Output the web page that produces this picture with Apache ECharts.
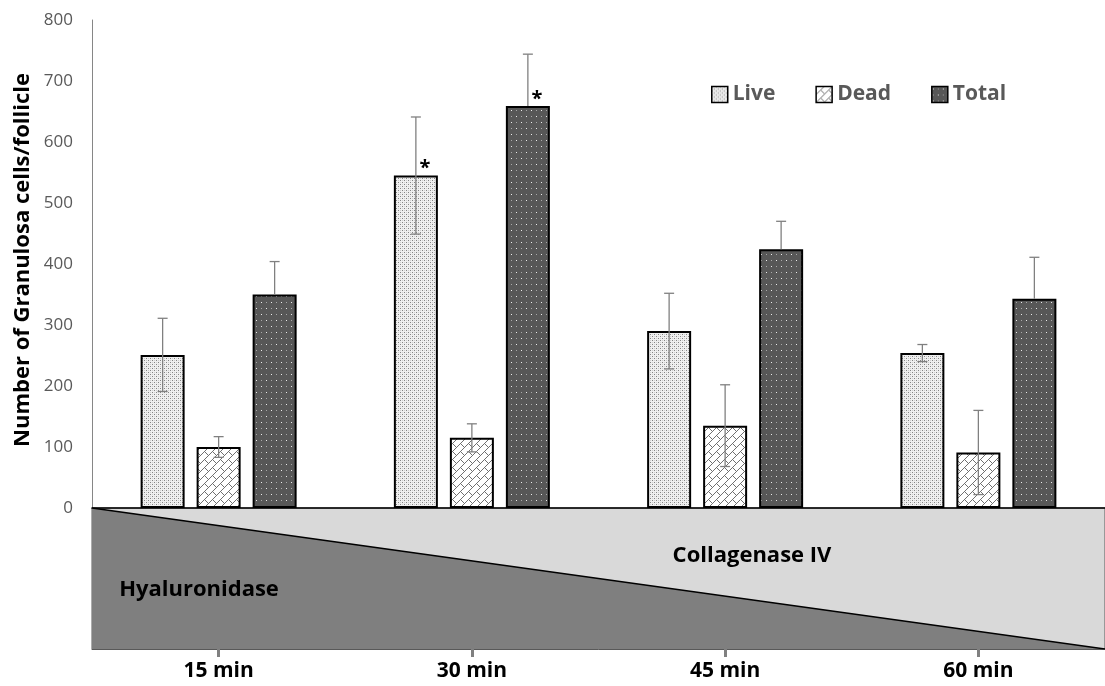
<!DOCTYPE html>
<html>
<head>
<meta charset="utf-8">
<title>Granulosa cells per follicle</title>
<script src="https://cdn.jsdelivr.net/npm/echarts@6/dist/echarts.min.js"></script>
<style>
  html, body { margin: 0; padding: 0; background: #ffffff; }
  #chart { width: 1105px; height: 686px; }
</style>
</head>
<body>
<div id="chart"></div>
<script>
// Digestion time points
const categories = ['15 min', '30 min', '45 min', '60 min'];

// Mean cell counts per follicle and their error (±)
const liveCells  = [251, 545, 290, 254];
const liveErr    = [60, 96, 62, 14];
const deadCells  = [100, 115, 135, 91];
const deadErr    = [17, 23, 67, 69];
const totalCells = [350, 659, 424, 343];
const totalErr   = [54, 85, 46, 68];

// Significance markers (*)
const liveSignificant  = [false, true, false, false];
const totalSignificant = [false, true, false, false];

// Enzyme gradient across the digestion: share of hyaluronidase from start (0) to end (1)
const gradientPos        = [0, 1];
const hyaluronidaseShare = [1, 0];

// Y axis range
const yMin = 0, yMax = 800, yStep = 100;

const FONT = "'Open Sans', 'Noto Sans', sans-serif";
const BAR_WIDTH = 44;
const BAR_GAP_PX = 12;

// --- fill patterns for the bars ---
function tile(w, h, bg, pixels) {
  const c = document.createElement('canvas');
  c.width = w; c.height = h;
  const ctx = c.getContext('2d');
  ctx.fillStyle = bg;
  ctx.fillRect(0, 0, w, h);
  pixels.forEach(p => {
    ctx.fillStyle = p[2];
    ctx.fillRect(p[0], p[1], 1, 1);
  });
  return { image: c, repeat: 'repeat' };
}

// fine dotted fill
const livePattern = tile(4, 4, '#f0f0f0', [
  [0, 0, '#848484'], [2, 2, '#848484'], [2, 0, '#cfcfcf'], [0, 2, '#cfcfcf']
]);

// shingle hatch
const deadPx = [];
for (let i = 0; i < 8; i++) deadPx.push([i, 7 - i, '#707070']);
for (let i = 0; i < 4; i++) deadPx.push([4 + i, 3 + i, '#707070']);
const deadPattern = tile(8, 8, '#ffffff', deadPx);

// dark fill with light dots
const totalPattern = tile(10, 12, '#575757', [
  [1, 2, '#ececec'], [6, 2, '#a8a8a8'], [1, 8, '#a8a8a8'], [6, 8, '#ececec']
]);

const chart = echarts.init(document.getElementById('chart'), null, { renderer: 'canvas' });

// error bar data: [categoryIndex, value, error]
function errData(values, errs) {
  return values.map((v, i) => [i, v, errs[i]]);
}

function errorSeries(name, values, errs, slot, plusOnly) {
  return {
    type: 'custom',
    name: name + ' error',
    xAxisIndex: 0,
    yAxisIndex: 0,
    z: 5,
    silent: true,
    encode: { x: 0, y: 1 },
    data: errData(values, errs),
    renderItem: function (params, api) {
      const ci = api.value(0), v = api.value(1), e = api.value(2);
      const shift = (slot - 1) * (BAR_WIDTH + BAR_GAP_PX);
      const top = api.coord([ci, v + e]);
      const mid = api.coord([ci, v]);
      const bot = api.coord([ci, v - e]);
      const x = top[0] + shift;
      const cap = 5;
      const style = { stroke: '#808080', lineWidth: 1.3 };
      const yLow = plusOnly ? mid[1] : bot[1];
      const children = [
        { type: 'line', shape: { x1: x, y1: top[1], x2: x, y2: yLow }, style: style },
        { type: 'line', shape: { x1: x - cap, y1: top[1], x2: x + cap, y2: top[1] }, style: style }
      ];
      if (!plusOnly) {
        children.push({ type: 'line', shape: { x1: x - cap, y1: bot[1], x2: x + cap, y2: bot[1] }, style: style });
      }
      return { type: 'group', children: children };
    }
  };
}

function starLabel(flags) {
  return {
    show: true,
    position: 'top',
    distance: 5,
    offset: [9, 8],
    fontFamily: FONT,
    fontSize: 20,
    fontWeight: 'bold',
    color: '#000000',
    formatter: p => (flags[p.dataIndex] ? '*' : '')
  };
}

const barBorder = { borderColor: '#000000', borderWidth: 2 };

const option = {
  backgroundColor: '#ffffff',
  animation: false,
  grid: [
    { left: 92, top: 20, width: 1014, height: 488, show: false },
    { left: 92, top: 508, width: 1014, height: 141, show: true,
      backgroundColor: '#d9d9d9', borderColor: '#595959', borderWidth: 1 }
  ],
  legend: {
    data: ['Live', 'Dead', 'Total'],
    left: 711,
    top: 84,
    padding: 0,
    icon: 'rect',
    itemWidth: 16,
    itemHeight: 16,
    itemGap: 40,
    selectedMode: false,
    itemStyle: { borderColor: '#000000', borderWidth: 1.5 },
    textStyle: { fontFamily: FONT, fontSize: 21, fontWeight: 'bold', color: '#595959' }
  },
  xAxis: [
    {
      type: 'category', gridIndex: 0, data: categories,
      axisLine: { show: true, lineStyle: { color: '#000000', width: 1.5 } },
      axisTick: { show: false },
      axisLabel: { show: false }
    },
    {
      type: 'category', gridIndex: 1, data: categories, position: 'bottom',
      axisLine: { show: true, lineStyle: { color: '#595959', width: 1 } },
      axisTick: { show: true, alignWithLabel: true, length: 8, lineStyle: { color: '#808080', width: 3 } },
      axisLabel: { show: true, margin: 12, fontFamily: FONT, fontSize: 21, fontWeight: 'bold', color: '#000000' }
    },
    {
      type: 'value', gridIndex: 1, min: 0, max: 1, show: false
    }
  ],
  yAxis: [
    {
      type: 'value', gridIndex: 0, min: yMin, max: yMax, interval: yStep,
      axisLine: { show: true, lineStyle: { color: '#868686', width: 1 } },
      axisTick: { show: false },
      splitLine: { show: false },
      axisLabel: { margin: 19, fontFamily: FONT, fontSize: 17, color: '#595959' }
    },
    {
      type: 'value', gridIndex: 1, min: 0, max: 1, show: false
    }
  ],
  graphic: [
    {
      type: 'text', x: 23, y: 260, rotation: Math.PI / 2, z: 10,
      style: {
        text: 'Number of Granulosa cells/follicle',
        fontFamily: FONT, fontSize: 22, fontWeight: 'bold', fill: '#000000',
        textAlign: 'center', textVerticalAlign: 'middle'
      }
    },
    {
      type: 'text', x: 199, y: 590, z: 10,
      style: {
        text: 'Hyaluronidase', fontFamily: FONT, fontSize: 22, fontWeight: 'bold', fill: '#000000',
        textAlign: 'center', textVerticalAlign: 'middle'
      }
    },
    {
      type: 'text', x: 752, y: 556, z: 10,
      style: {
        text: 'Collagenase IV', fontFamily: FONT, fontSize: 22, fontWeight: 'bold', fill: '#000000',
        textAlign: 'center', textVerticalAlign: 'middle'
      }
    }
  ],
  series: [
    {
      name: 'Live', type: 'bar', xAxisIndex: 0, yAxisIndex: 0,
      barWidth: BAR_WIDTH, barGap: (BAR_GAP_PX / BAR_WIDTH * 100) + '%',
      data: liveCells,
      itemStyle: Object.assign({ color: livePattern }, barBorder),
      label: starLabel(liveSignificant)
    },
    {
      name: 'Dead', type: 'bar', xAxisIndex: 0, yAxisIndex: 0,
      barWidth: BAR_WIDTH, barGap: (BAR_GAP_PX / BAR_WIDTH * 100) + '%',
      data: deadCells,
      itemStyle: Object.assign({ color: deadPattern }, barBorder)
    },
    {
      name: 'Total', type: 'bar', xAxisIndex: 0, yAxisIndex: 0,
      barWidth: BAR_WIDTH, barGap: (BAR_GAP_PX / BAR_WIDTH * 100) + '%',
      data: totalCells,
      itemStyle: Object.assign({ color: totalPattern }, barBorder),
      label: starLabel(totalSignificant)
    },
    errorSeries('Live', liveCells, liveErr, 0, false),
    errorSeries('Dead', deadCells, deadErr, 1, false),
    errorSeries('Total', totalCells, totalErr, 2, true),
    {
      // hyaluronidase wedge over the collagenase background
      name: 'Hyaluronidase', type: 'line', xAxisIndex: 2, yAxisIndex: 1,
      data: gradientPos.map((x, i) => [x, hyaluronidaseShare[i]]),
      symbol: 'none', silent: true,
      lineStyle: { color: '#000000', width: 1.5 },
      areaStyle: { color: '#7f7f7f', opacity: 1 },
      z: 1
    }
  ]
};

chart.setOption(option);
</script>
</body>
</html>
